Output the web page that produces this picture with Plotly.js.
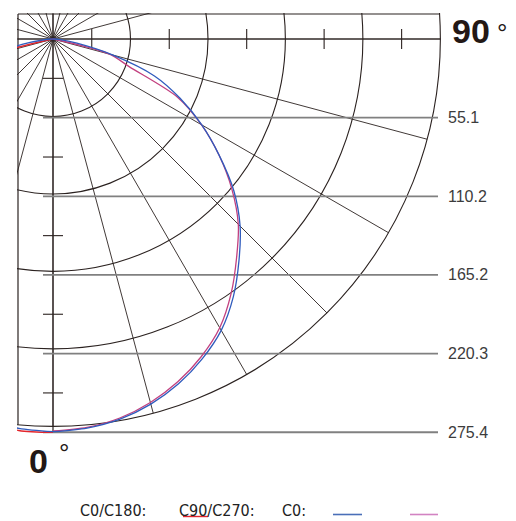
<!DOCTYPE html>
<html><head><meta charset="utf-8">
<script src="https://cdn.plot.ly/plotly-3.0.1.min.js"></script>
<style>html,body{margin:0;padding:0;background:#fff}#chart{width:516px;height:521px}</style>
</head><body><div id="chart"></div>
<script>
// ---------- data ----------
const gridValues = [55.1, 110.2, 165.2, 220.3, 275.4];
const gridLabels = ['55.1', '110.2', '165.2', '220.3', '275.4'];
const angles = [0, 5, 10, 15, 20, 25, 30, 35, 40, 45, 50, 55, 60, 65, 70, 75, 80, 85, 90];
const c0   = [275, 273.5, 270.3, 264.7, 257, 247.2, 235.6, 220.2, 202.6, 185.3, 165.3, 142.1, 120.3, 98.2, 75.6, 43.5, 17, 5, 0];
const c180 = [275, 273.7, 270.3, 264.7, 257, 247.2, 235.6, 220.2, 202.6, 185.3, 165.3, 142.1, 120.3, 98.2, 75.6, 43.5, 22, 6, 0];
const c90  = [274.5, 273, 269.5, 263.5, 255.5, 245.5, 233.5, 217.5, 200, 183.5, 163.5, 142, 120, 96, 57, 41, 2, 0, 0];
const c270 = [275.4, 275.2, 270.5, 264, 255.5, 245.5, 233.5, 217.5, 200, 183.5, 163.5, 142, 120, 96, 57, 41, 2, 0, 0];
const legendLabels = ['C0/C180:', 'C90/C270:', 'C0:'];
const axisLabels = ['90', '0'];

// ---------- layout helpers ----------
const s = 1.428;                 // px per unit
const X = px => (px - 53) / s;   // pixel -> data
const Y = py => (39 - py) / s;
const ringScale = 0.985;
const ringR = gridValues.map(v => v * ringScale);
const outerR = ringR[ringR.length - 1];
const ink = '#2b2220';
const rad = a => a * Math.PI / 180;

function half(vals, sign) {
  return {
    x: vals.map((r, i) => sign * r * Math.sin(rad(angles[i]))),
    y: vals.map((r, i) => -r * Math.cos(rad(angles[i])))
  };
}
const traces = [];
function curve(vals, sign, color) {
  const p = half(vals, sign);
  traces.push({type: 'scatter', mode: 'lines', x: p.x, y: p.y,
    line: {color: color, width: 1.3, shape: 'spline', smoothing: 0.8}, hoverinfo: 'skip'});
}
curve(c270, -1, '#e3262c');
curve(c90, 1, '#c2407f');
curve(c180, -1, '#2f5bbd');
curve(c0, 1, '#2f5bbd');

const shapes = [];
const line = (x0, y0, x1, y1, color, width) => shapes.push({type: 'line', xref: 'x', yref: 'y',
  x0, y0, x1, y1, line: {color, width}, layer: 'below'});

// rings
ringR.forEach(R => shapes.push({type: 'circle', xref: 'x', yref: 'y', x0: -R, x1: R, y0: -R, y1: R,
  line: {color: ink, width: 1.1}, layer: 'below'}));
// spokes
for (let a = 0; a < 360; a += 15) {
  line(0, 0, outerR * Math.sin(rad(a)), -outerR * Math.cos(rad(a)), ink, 0.9);
}
// axes
line(X(18), 0, outerR, 0, ink, 1.2);
line(0, Y(14), 0, -gridValues[4], ink, 1.2);
// ticks
gridValues.forEach((v, i) => {
  const half = (i === 0 ? v : v - gridValues[i - 1]) / 2;
  const hx = (v - half) * ringScale;
  line(hx, 7, hx, -7, ink, 1.1);
  const vy = -(v - half);
  line(-7, vy, 7, vy, ink, 1.1);
});
// gray value lines
gridValues.forEach(v => line(-7, -v, X(438), -v, '#808080', 1.8));
// frame
const fTop = Y(14), fLeft = X(18);
line(fLeft, fTop, Math.sqrt(outerR * outerR - fTop * fTop), fTop, ink, 1.2);
line(fLeft, fTop, fLeft, -Math.sqrt(outerR * outerR - fLeft * fLeft), ink, 1.2);

// legend lines
const legendColors = ['#e3262c', '#4a6fb8', '#d283c2'];
shapes.push({type: 'line', xref: 'x', yref: 'y', x0: X(183), x1: X(208), y0: Y(516.5), y1: Y(516.5), line: {color: legendColors[0], width: 1.4}});
shapes.push({type: 'line', xref: 'x', yref: 'y', x0: X(333), x1: X(362), y0: Y(514.5), y1: Y(514.5), line: {color: legendColors[1], width: 1.6}});
shapes.push({type: 'line', xref: 'x', yref: 'y', x0: X(410), x1: X(438), y0: Y(514.5), y1: Y(514.5), line: {color: legendColors[2], width: 1.6}});

const annotations = [];
gridValues.forEach((v, i) => annotations.push({xref: 'x', yref: 'y', x: X(446), y: -v, text: gridLabels[i],
  showarrow: false, xanchor: 'left', yanchor: 'middle',
  font: {family: 'Liberation Sans, Arial, sans-serif', size: 16, color: '#3c3c3c'}}));

const bigFont = {family: 'Liberation Sans, Arial, sans-serif', size: 34, color: '#231815', weight: 700};
const degFont = {family: 'Liberation Sans, Arial, sans-serif', size: 26, color: '#231815'};
annotations.push({xref: 'x', yref: 'y', x: X(450), y: Y(31), text: axisLabels[0], showarrow: false,
  xanchor: 'left', yanchor: 'middle', font: bigFont});
annotations.push({xref: 'x', yref: 'y', x: X(495), y: Y(33), text: '°', showarrow: false,
  xanchor: 'left', yanchor: 'middle', font: degFont});
annotations.push({xref: 'x', yref: 'y', x: X(27), y: Y(461), text: axisLabels[1], showarrow: false,
  xanchor: 'left', yanchor: 'middle', font: bigFont});
annotations.push({xref: 'x', yref: 'y', x: X(57), y: Y(453), text: '°', showarrow: false,
  xanchor: 'left', yanchor: 'middle', font: degFont});

const legFont = {family: 'DejaVu Sans Condensed, Liberation Sans Narrow, sans-serif', size: 16, color: '#222'};
[78, 177, 280].forEach((px, i) => annotations.push({xref: 'x', yref: 'y', x: X(px), y: Y(510),
  text: legendLabels[i], showarrow: false, xanchor: 'left', yanchor: 'middle', font: legFont}));

const layout = {
  width: 516, height: 521,
  margin: {l: 17, r: 0, t: 13, b: 0, pad: 0},
  paper_bgcolor: '#fff', plot_bgcolor: '#fff',
  showlegend: false,
  xaxis: {range: [X(17), X(516)], visible: false, fixedrange: true},
  yaxis: {range: [Y(521), Y(13)], visible: false, fixedrange: true},
  shapes, annotations
};
Plotly.newPlot('chart', traces, layout, {displayModeBar: false, staticPlot: true});
</script>
</body></html>
